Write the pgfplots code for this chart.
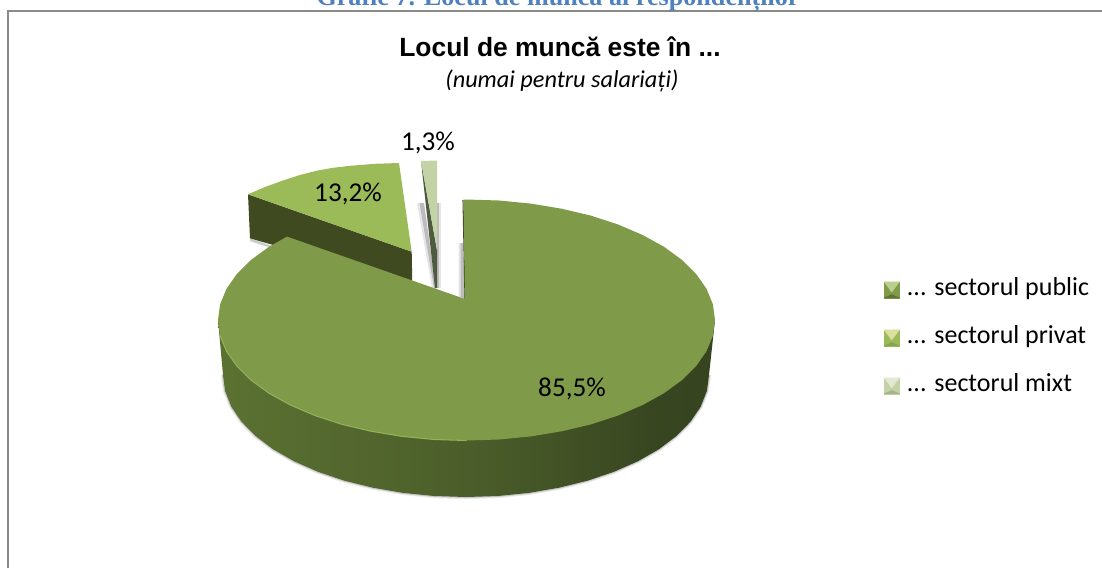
\documentclass[border=0pt]{standalone}
\usepackage{fontspec}
\setmainfont{Carlito}
\newfontfamily\arialfont{Liberation Sans}
\newfontfamily\timesfont{Liberation Serif}
\usepackage{pgfplots}
\pgfplotsset{compat=1.18}

\definecolor{mainTop}{HTML}{7F9A48}
\definecolor{rimLight}{HTML}{93B156}
\definecolor{privTop}{HTML}{9BBB59}
\definecolor{privSide}{HTML}{404A20}
\definecolor{mixtTop}{HTML}{C3D3A5}
\definecolor{mixtSide}{HTML}{4F5B41}
\definecolor{frameGray}{HTML}{8A8A8A}
\definecolor{headBlue}{HTML}{4F81BD}
\definecolor{sideA}{HTML}{6C853A}
\definecolor{sideB}{HTML}{4B5E2A}
\definecolor{sideC}{HTML}{374520}
\definecolor{sideD}{HTML}{323D1B}
\pgfdeclarehorizontalshading{sideband}{100bp}{color(0bp)=(sideA); color(50bp)=(sideB); color(70bp)=(sideC); color(100bp)=(sideD)}

% legend swatch: top, sides, bottom of the bevelled square
\newcommand{\bevelbox}[3]{%
  \fill[#2] (0pt,-1.5pt) rectangle (11.25pt,10.5pt);
  \fill[#1] (0pt,10.5pt) -- (11.25pt,10.5pt) -- (5.6pt,3pt) -- cycle;
  \fill[#3] (0pt,-1.5pt) -- (11.25pt,-1.5pt) -- (5.6pt,1pt) -- cycle;
}

% lower edge of the pie's base, pixel coordinates
\pgfplotstableread{
x y
709 375
706.9 390.9
700.7 406.6
690.5 421.7
676.4 436
658.8 449.3
637.8 461.3
613.9 471.8
587.5 480.7
559 487.7
528.9 492.9
497.7 496
466 497
434.3 496
403.1 492.9
373 487.7
344.5 480.7
318.1 471.8
294.2 461.3
273.2 449.3
255.6 436
241.5 421.7
231.3 406.6
225.1 390.9
223 375
}\baserim

\begin{document}
\begin{tikzpicture}
\path[use as bounding box, clip] (0,0) rectangle (826.5pt,426pt);
\begin{axis}[
    at={(0,0)}, anchor=south west,
    scale only axis, width=826.5pt, height=426pt,
    xmin=0, xmax=1102, ymin=0, ymax=568,
    y dir=reverse,
    axis lines=none,
    every axis plot/.append style={forget plot},
    legend style={
      at={(0.8022,0.4085)}, anchor=west,
      draw=none, fill=none, inner sep=0pt, outer sep=0pt,
      row sep=20.7pt,
      font=\fontsize{19.5}{22}\selectfont,
      nodes={inner sep=0pt, anchor=base west},
      /tikz/every odd column/.append style={column sep=5.5pt},
    },
    legend cell align=left,
  ]
  % frame
  \addplot[draw=frameGray, line width=1.6pt] coordinates {(8,568) (8,11) (1102,11)};

  % soft shadows
  \addplot[draw=black, opacity=0.08, line width=3.2pt] table {\baserim};
  \addplot[draw=black, opacity=0.15, line width=1.6pt] table {\baserim};
  \addplot[fill=black, draw=none, opacity=0.2] coordinates {(250,238) (283,250) (283,252) (250,241)} -- cycle;
  \addplot[fill=black, draw=none, opacity=0.1] coordinates {(417,203) (424,203) (436,288) (432,288)} -- cycle;
  \addplot[fill=black, draw=none, opacity=0.18] coordinates {(419.5,203) (424,203) (436,288) (434,288)} -- cycle;
  \addplot[fill=black, draw=none, opacity=0.1] coordinates {(437,203) (441,203) (441,288) (437,288)} -- cycle;
  \addplot[fill=black, draw=none, opacity=0.18] coordinates {(437,203) (439,203) (439,288) (437,288)} -- cycle;
  \addplot[fill=black, draw=none, opacity=0.1] coordinates {(458.5,243) (463,243) (465,299) (458.5,297)} -- cycle;
  \addplot[fill=black, draw=none, opacity=0.18] coordinates {(460.5,243) (463,243) (465,299) (460.5,297)} -- cycle;

  % 13,2% slice
  \addplot[fill=privSide, draw=none] coordinates {(248,194.3) (411.7,251.7) (412.3,285) (250,238.3)} -- cycle;
  \addplot[fill=privTop, draw=none] coordinates {
    (248,194.3) (265,187) (283,180.5) (300,175) (316.7,170.7) (333,167.8) (350,165.8)
    (375,163.8) (399,163) (411.7,251.7)} -- cycle;

  % 1,3% slice
  \addplot[fill=mixtSide, draw=none] coordinates {(421,161) (437,250) (437,288) (435,288)} -- cycle;
  \addplot[fill=mixtTop, draw=none] coordinates {(421,161) (437,160.5) (437,250)} -- cycle;

  % 85,5% slice: side band, inner cut, top
  \addplot[shading=sideband, draw=none] coordinates {
    (715,320) (709,375) (706.9,390.9) (700.7,406.6) (690.5,421.7) (676.4,436) (658.8,449.3)
    (637.8,461.3) (613.9,471.8) (587.5,480.7) (559,487.7) (528.9,492.9) (497.7,496) (466,497)
    (434.3,496) (403.1,492.9) (373,487.7) (344.5,480.7) (318.1,471.8) (294.2,461.3) (273.2,449.3)
    (255.6,436) (241.5,421.7) (231.3,406.6) (225.1,390.9) (223,375) (218,320)} -- cycle;
  \addplot[draw=privSide, line width=0.8pt] coordinates {(463,200) (465,299)};
  \addplot[fill=mainTop, draw=none] coordinates {
    (463.5,199.5) (466.5,199.5) (498.9,200.5) (530.8,203.6) (561.6,208.7) (590.8,215.6) (617.8,224.4)
    (642.2,234.8) (663.7,246.6) (681.7,259.7) (696.1,273.9) (706.5,288.8) (712.9,304.3) (715,320)
    (712.9,335.7) (706.5,351.2) (696.1,366.1) (681.7,380.3) (663.7,393.4) (642.2,405.2) (617.8,415.6)
    (590.8,424.4) (561.6,431.3) (530.8,436.4) (498.9,439.5) (466.5,440.5) (434.1,439.5) (402.2,436.4)
    (371.4,431.3) (342.2,424.4) (315.2,415.6) (290.8,405.2) (269.3,393.4) (251.3,380.3) (236.9,366.1)
    (226.5,351.2) (220.1,335.7) (218,320) (220.1,304.3) (226.5,288.8) (236.9,273.9) (251.3,259.7)
    (269.3,246.6) (287,236.6) (465,299)} -- cycle;
  % lit rim of the top
  \addplot[draw=rimLight, line width=0.8pt] coordinates {
    (220.1,335.7) (226.5,351.2) (236.9,366.1) (251.3,380.3) (269.3,393.4) (290.8,405.2) (315.2,415.6)
    (342.2,424.4) (371.4,431.3) (402.2,436.4) (434.1,439.5) (466.5,440.5)};

  % data labels
  \node[font=\fontsize{20.4}{24}\selectfont, text=black] at (axis cs:348,194) {13,2\%};
  \node[font=\fontsize{20.4}{24}\selectfont, text=black] at (axis cs:428,143) {1,3\%};
  \node[font=\fontsize{20.4}{24}\selectfont, text=black] at (axis cs:572,389) {85,5\%};

  % titles
  \node[font=\timesfont\bfseries\fontsize{19.6}{22}\selectfont, text=headBlue, anchor=base] at (axis cs:558,5.5) {Grafic 7. Locul de muncă al respondenților};
  \node[font=\arialfont\bfseries\fontsize{19.8}{22}\selectfont, anchor=base] at (axis cs:560,56) {Locul de muncă este în ...};
  \node[font=\itshape\fontsize{18.2}{21}\selectfont, anchor=base] at (axis cs:562,87) {(numai pentru salariați)};

  % legend
  \addlegendimage{legend image code/.code={\bevelbox{white!30!privTop}{mainTop}{black!25!mainTop}}}
  \addlegendentry{... sectorul public}
  \addlegendimage{legend image code/.code={\bevelbox{yellow!30!white!60!privTop}{privTop}{black!12!privTop}}}
  \addlegendentry{... sectorul privat}
  \addlegendimage{legend image code/.code={\bevelbox{white!50!mixtTop}{mixtTop}{black!15!mixtTop}}}
  \addlegendentry{... sectorul mixt}
\end{axis}
\end{tikzpicture}
\end{document}
